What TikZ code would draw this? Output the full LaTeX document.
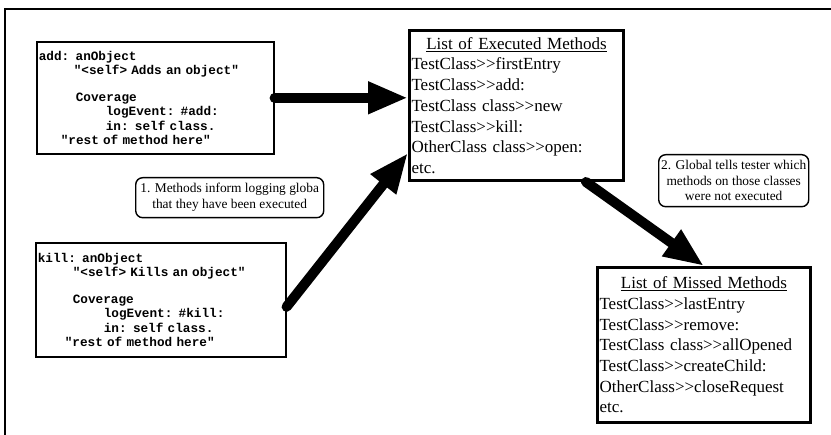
\documentclass[tikz,border=0pt]{standalone}
\usepackage{fontspec}
\setmainfont{Liberation Serif}
\newfontfamily\codefont{Liberation Mono}
\usetikzlibrary{arrows.meta}
\tikzstyle{codebox} = [rectangle, draw, line width=1.6pt, anchor=north west,
    inner xsep=2pt, align=left,
    font={\codefont\bfseries\fontsize{12.7}{14.5}\selectfont}]
\tikzstyle{listbox} = [rectangle, draw, line width=3pt, anchor=north west,
    inner xsep=2pt, align=left, font={\fontsize{17}{20.7}\selectfont}]
\tikzstyle{notebox} = [rectangle, draw, rounded corners=7pt, line width=1.4pt,
    anchor=north west, inner sep=1pt, align=center,
    font={\fontsize{13.4}{16}\selectfont}]
\tikzstyle{bigarrow} = [line width=10pt, line cap=round,
    -{Triangle[length=40pt,width=30pt]}]

\begin{document}
\begin{tikzpicture}[x=1pt, y=-1pt]
  \useasboundingbox (0,0) rectangle (831,435);
  \draw[line width=1.6pt] (831,9) -- (5,9) -- (5,435);

  % the two instrumented methods
  \node [codebox, text width=233pt, minimum width=237pt, minimum height=112pt]
    (add) at (36,41) {add: anObject\\
    \hspace*{35pt}"<self> Adds an object"\\[12pt]
    \hspace*{37pt}Coverage\\
    \hspace*{67pt}logEvent: \#add:\\
    \hspace*{67pt}in: self class.\\
    \hspace*{22pt}"rest of method here"};
  \node [codebox, text width=246pt, minimum width=250pt, minimum height=114pt]
    (kill) at (35,242) {kill: anObject\\
    \hspace*{35pt}"<self> Kills an object"\\[12pt]
    \hspace*{35pt}Coverage\\
    \hspace*{66pt}logEvent: \#kill:\\
    \hspace*{66pt}in: self class.\\
    \hspace*{27pt}"rest of method here"};

  % the lists kept by the global
  \node [listbox, text width=210pt, minimum width=214pt, minimum height=150pt]
    (exec) at (408,29) {\makebox[210pt][c]{\underline{List of Executed Methods}}\\
    TestClass>{}>firstEntry\\
    TestClass>{}>add:\\
    TestClass class>{}>new\\
    TestClass>{}>kill:\\
    OtherClass class>{}>open:\\
    etc.};
  \node [listbox, text width=209pt, minimum width=213pt, minimum height=155pt]
    (missed) at (596,266) {\makebox[209pt][c]{\underline{List of Missed Methods}}\\
    TestClass>{}>lastEntry\\
    TestClass>{}>remove:\\
    TestClass class>{}>allOpened\\
    TestClass>{}>createChild:\\
    OtherClass>{}>closeRequest\\
    etc.};

  % notes
  \node [notebox, minimum width=188pt, minimum height=40pt]
    (note1) at (135,177) {1. Methods inform logging globa\\
    that they have been executed};
  \node [notebox, minimum width=150pt, minimum height=52pt,
    font={\fontsize{13.4}{15.7}\selectfont}]
    (note2) at (658,154) {2. Global tells tester which\\
    methods on those classes\\
    were not executed};

  \draw [bigarrow] (add.east) -- (add.east -| exec.west);
  \draw [bigarrow] ([yshift=-7pt]kill.east) -- ([yshift=29pt]exec.south west);
  \draw [bigarrow] ([xshift=-39pt]exec.south east) -- (missed.north);
\end{tikzpicture}
\end{document}
